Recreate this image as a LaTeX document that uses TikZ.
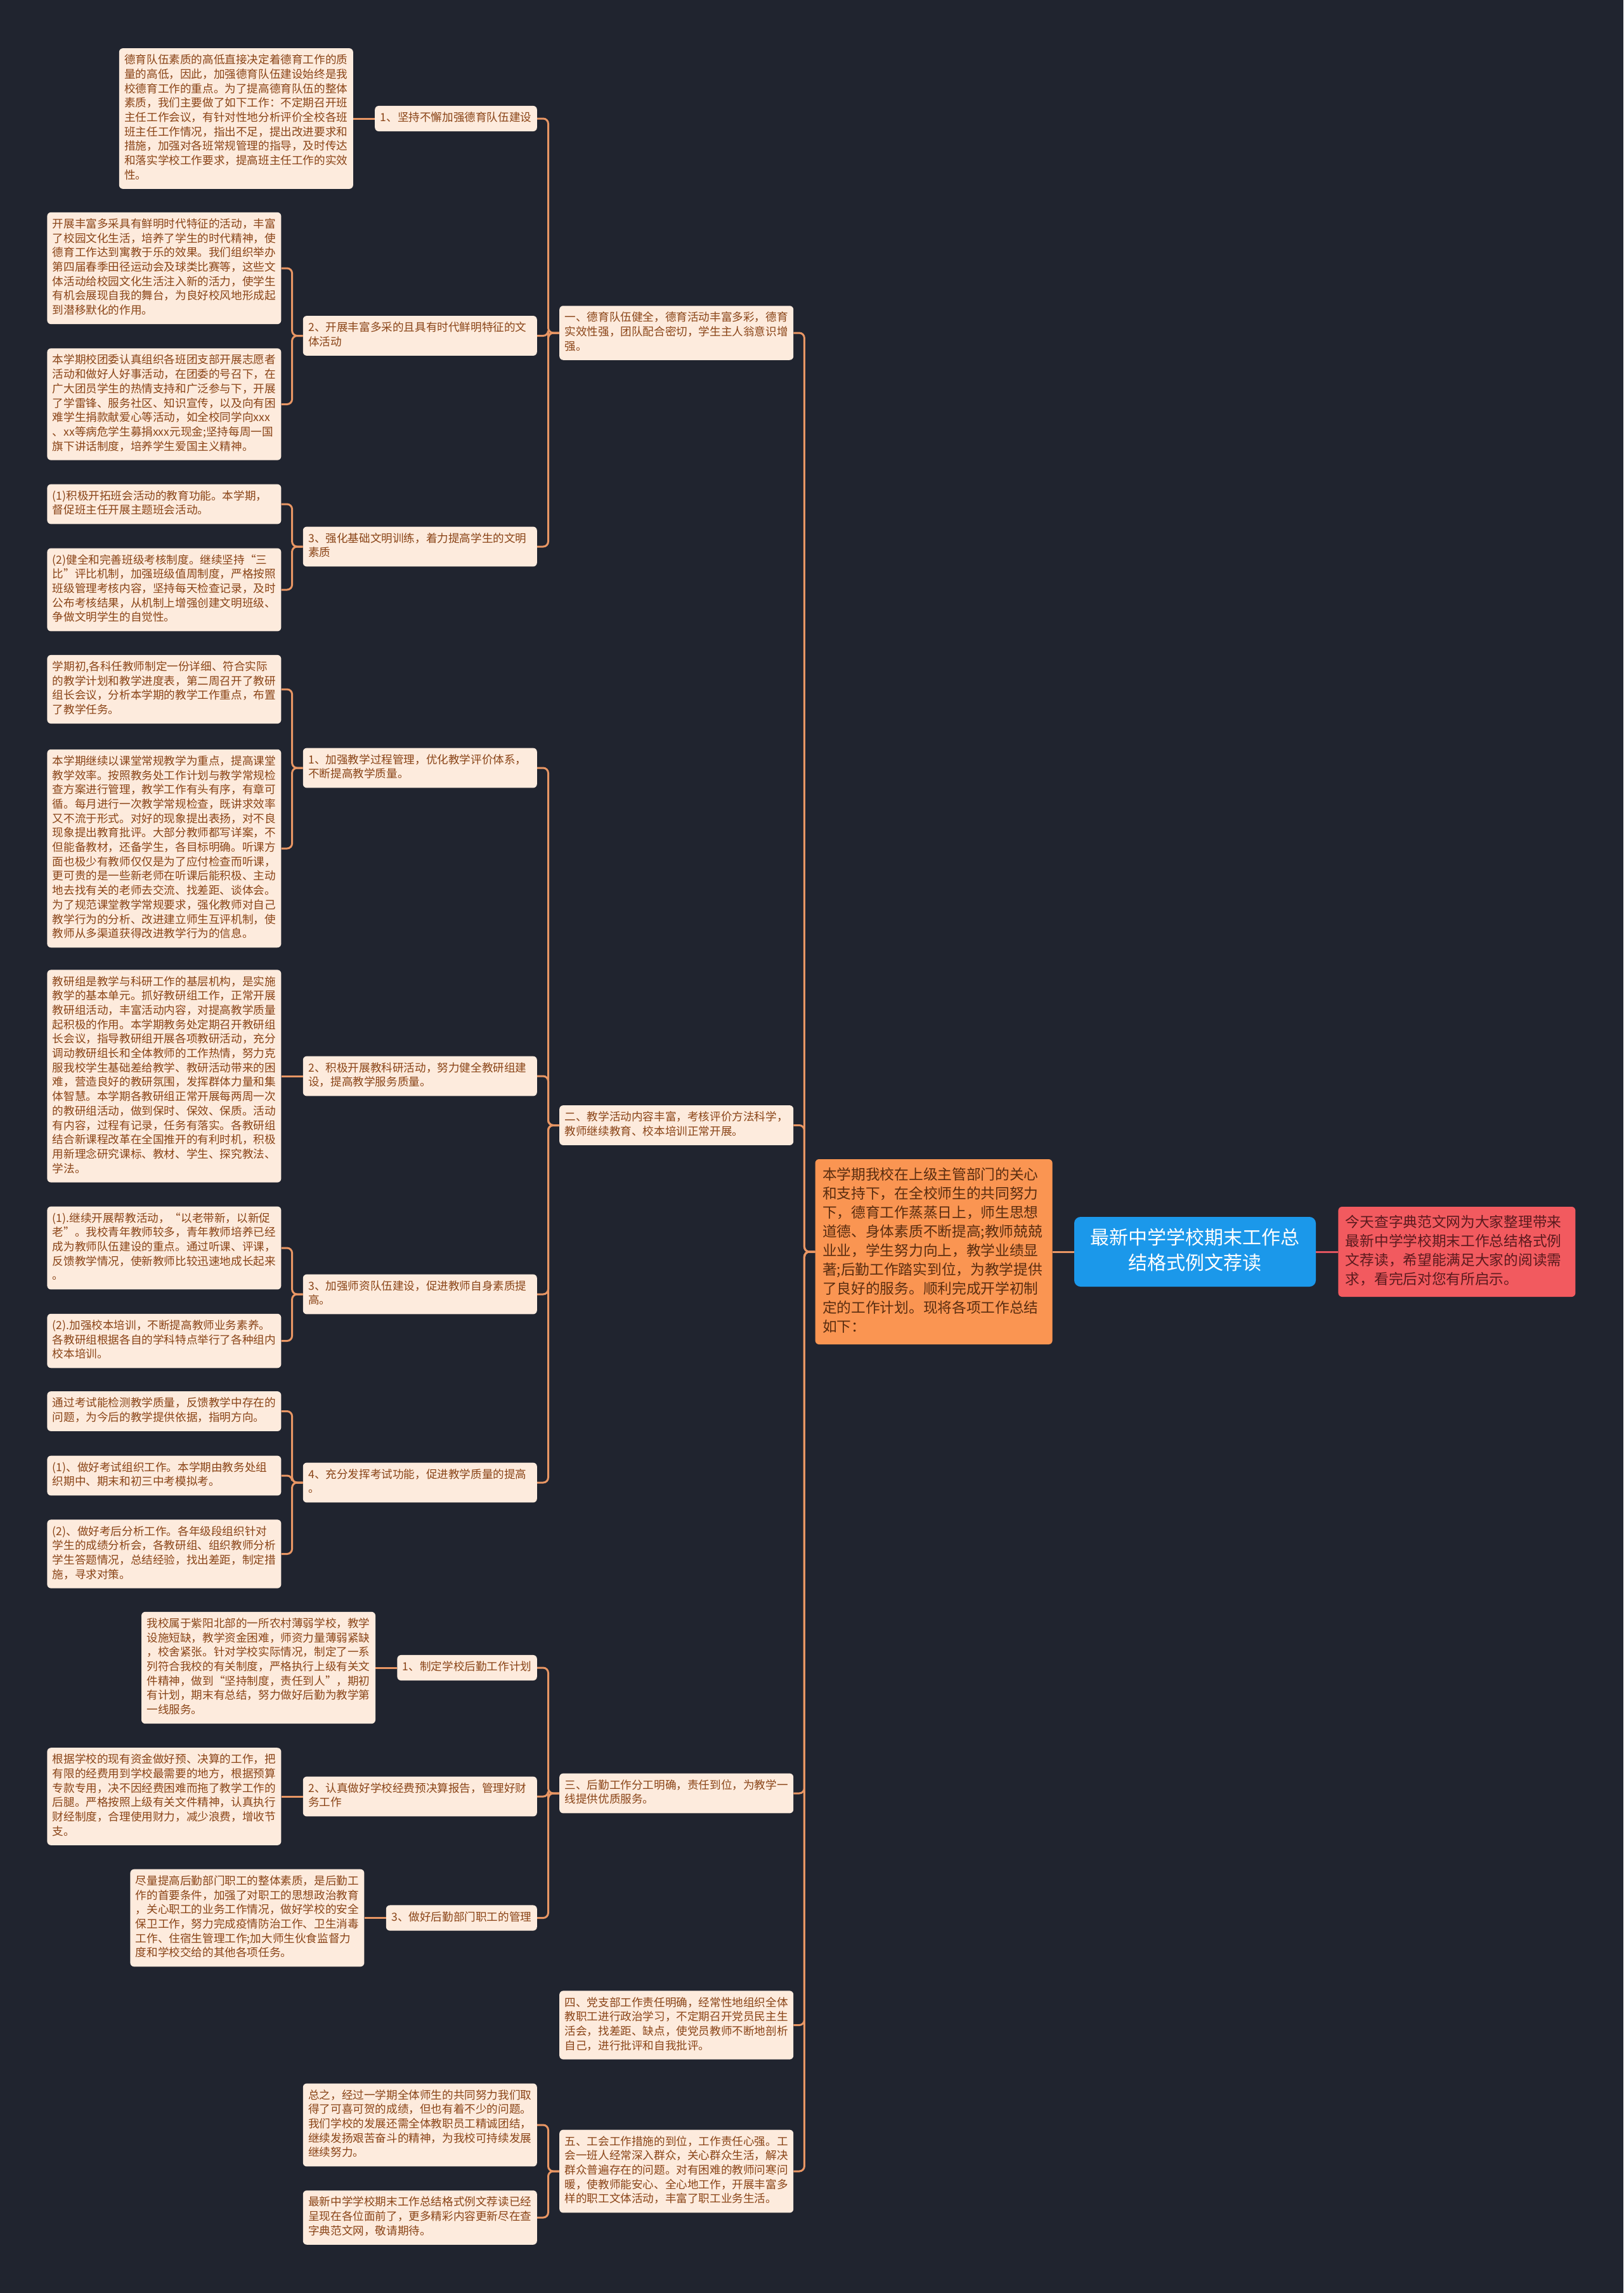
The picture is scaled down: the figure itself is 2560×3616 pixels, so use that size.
\documentclass[tikz,border=0pt]{standalone}
\usepackage{fontspec}
\setmainfont{Noto Sans CJK SC}
\usepackage{tikz}
\usetikzlibrary{positioning}
\definecolor{bgc}{HTML}{20242F}
\definecolor{leafc}{HTML}{FDEBDD}
\definecolor{leaftxt}{HTML}{8A4417}
\definecolor{linkc}{HTML}{E89664}
\definecolor{rootc}{HTML}{1B98EA}
\definecolor{orgc}{HTML}{FA9552}
\definecolor{orgtxt}{HTML}{5A2D10}
\definecolor{redc}{HTML}{F25A5F}
\definecolor{redtxt}{HTML}{5C1A1E}
\definecolor{redln}{HTML}{E05560}

\begin{document}
\begin{tikzpicture}[x=1pt,y=-1pt,
  box/.style={fill=leafc,text=leaftxt,rounded corners=6pt,inner xsep=8.5pt,inner ysep=8.7pt,
              font=\fontsize{17.6pt}{22.7pt}\selectfont,
              execute at begin node=\strut,execute at end node=\strut},
  leaf/.style={box,align=left,text width=352pt},
  tag/.style={box},
  topic/.style={fill=rootc,text=white,rounded corners=10pt,align=center,text width=330pt,
                inner xsep=25.5pt,inner ysep=15pt,font=\fontsize{30pt}{40pt}\selectfont,
                execute at begin node=\strut,execute at end node=\strut},
  side/.style={fill=#1,rounded corners=6pt,align=left,text width=351pt,inner xsep=11.5pt,
               inner ysep=11pt,font=\fontsize{22.7pt}{30pt}\selectfont,
               execute at begin node=\strut,execute at end node=\strut},
  link/.style={draw=linkc,line width=3pt,rounded corners=8pt}]
  \fill[bgc] (0,0) rectangle (2560,3616);

  \node[topic] (root) at (1884.5,1974) {最新中学学校期末工作总\\结格式例文荐读};
  \node[side=orgc,text=orgtxt,left=34pt of root] (intro) {本学期我校在上级主管部门的关心\\和支持下，在全校师生的共同努力\\下，德育工作蒸蒸日上，师生思想\\道德、身体素质不断提高;教师兢兢\\业业，学生努力向上，教学业绩显\\著;后勤工作踏实到位，为教学提供\\了良好的服务。顺利完成开学初制\\定的工作计划。现将各项工作总结\\如下：};
  \node[side=redc,text=redtxt,right=35pt of root] (desc) {今天查字典范文网为大家整理带来\\最新中学学校期末工作总结格式例\\文荐读，希望能满足大家的阅读需\\求，看完后对您有所启示。};

  \node[leaf,anchor=east,xshift=-34pt] (one) at (intro.west |- 0,525) {一、德育队伍健全，德育活动丰富多彩，德育\\实效性强，团队配合密切，学生主人翁意识增\\强。};
  \node[leaf,anchor=east,xshift=-34pt] (two) at (intro.west |- 0,1774.5) {二、教学活动内容丰富，考核评价方法科学，\\教师继续教育、校本培训正常开展。};
  \node[leaf,anchor=east,xshift=-34pt] (three) at (intro.west |- 0,2828) {三、后勤工作分工明确，责任到位，为教学一\\线提供优质服务。};
  \node[leaf,anchor=east,xshift=-34pt] (four) at (intro.west |- 0,3193.5) {四、党支部工作责任明确，经常性地组织全体\\教职工进行政治学习，不定期召开党员民主生\\活会，找差距、缺点，使党员教师不断地剖析\\自己，进行批评和自我批评。};
  \node[leaf,anchor=east,xshift=-34pt] (five) at (intro.west |- 0,3424) {五、工会工作措施的到位，工作责任心强。工\\会一班人经常深入群众，关心群众生活，解决\\群众普遍存在的问题。对有困难的教师问寒问\\暖，使教师能安心、全心地工作，开展丰富多\\样的职工文体活动，丰富了职工业务生活。};

  \node[tag,anchor=east,xshift=-35pt] (dy1) at (one.west |- 0,187) {1、坚持不懈加强德育队伍建设};
  \node[leaf,anchor=east,xshift=-35pt] (dy2) at (one.west |- 0,529.5) {2、开展丰富多采的且具有时代鲜明特征的文\\体活动};
  \node[leaf,anchor=east,xshift=-35pt] (dy3) at (one.west |- 0,862) {3、强化基础文明训练，着力提高学生的文明\\素质};
  \node[leaf,anchor=east,xshift=-35pt] (jx1) at (two.west |- 0,1211) {1、加强教学过程管理，优化教学评价体系，\\不断提高教学质量。};
  \node[leaf,anchor=east,xshift=-35pt] (jx2) at (two.west |- 0,1697) {2、积极开展教科研活动，努力健全教研组建\\设，提高教学服务质量。};
  \node[leaf,anchor=east,xshift=-35pt] (jx3) at (two.west |- 0,2041) {3、加强师资队伍建设，促进教师自身素质提\\高。};
  \node[leaf,anchor=east,xshift=-35pt] (jx4) at (two.west |- 0,2338) {4、充分发挥考试功能，促进教学质量的提高\\。};
  \node[tag,anchor=east,xshift=-35pt] (hq1) at (three.west |- 0,2630) {1、制定学校后勤工作计划};
  \node[leaf,anchor=east,xshift=-35pt] (hq2) at (three.west |- 0,2833) {2、认真做好学校经费预决算报告，管理好财\\务工作};
  \node[tag,anchor=east,xshift=-35pt] (hq3) at (three.west |- 0,3024.5) {3、做好后勤部门职工的管理};
  \node[leaf,anchor=east,xshift=-35pt] (gh1) at (five.west |- 0,3351) {总之，经过一学期全体师生的共同努力我们取\\得了可喜可贺的成绩，但也有着不少的问题。\\我们学校的发展还需全体教职员工精诚团结，\\继续发扬艰苦奋斗的精神，为我校可持续发展\\继续努力。};
  \node[leaf,anchor=east,xshift=-35pt] (gh2) at (five.west |- 0,3497) {最新中学学校期末工作总结格式例文荐读已经\\呈现在各位面前了，更多精彩内容更新尽在查\\字典范文网，敬请期待。};

  \node[leaf,left=34pt of dy1] (a1) {德育队伍素质的高低直接决定着德育工作的质\\量的高低，因此，加强德育队伍建设始终是我\\校德育工作的重点。为了提高德育队伍的整体\\素质，我们主要做了如下工作：不定期召开班\\主任工作会议，有针对性地分析评价全校各班\\班主任工作情况，指出不足，提出改进要求和\\措施，加强对各班常规管理的指导，及时传达\\和落实学校工作要求，提高班主任工作的实效\\性。};
  \node[leaf,anchor=east,xshift=-34pt] (b1) at (dy2.west |- 0,423) {开展丰富多采具有鲜明时代特征的活动，丰富\\了校园文化生活，培养了学生的时代精神，使\\德育工作达到寓教于乐的效果。我们组织举办\\第四届春季田径运动会及球类比赛等，这些文\\体活动给校园文化生活注入新的活力，使学生\\有机会展现自我的舞台，为良好校风地形成起\\到潜移默化的作用。};
  \node[leaf,anchor=east,xshift=-34pt] (b2) at (dy2.west |- 0,637.5) {本学期校团委认真组织各班团支部开展志愿者\\活动和做好人好事活动，在团委的号召下，在\\广大团员学生的热情支持和广泛参与下，开展\\了学雷锋、服务社区、知识宣传，以及向有困\\难学生捐款献爱心等活动，如全校同学向xxx\\、xx等病危学生募捐xxx元现金;坚持每周一国\\旗下讲话制度，培养学生爱国主义精神。};
  \node[leaf,anchor=east,xshift=-34pt] (c1) at (dy3.west |- 0,795) {(1)积极开拓班会活动的教育功能。本学期，\\督促班主任开展主题班会活动。};
  \node[leaf,anchor=east,xshift=-34pt] (c2) at (dy3.west |- 0,930) {(2)健全和完善班级考核制度。继续坚持“三\\比”评比机制，加强班级值周制度，严格按照\\班级管理考核内容，坚持每天检查记录，及时\\公布考核结果，从机制上增强创建文明班级、\\争做文明学生的自觉性。};
  \node[leaf,anchor=east,xshift=-34pt] (d1) at (jx1.west |- 0,1087) {学期初,各科任教师制定一份详细、符合实际\\的教学计划和教学进度表，第二周召开了教研\\组长会议，分析本学期的教学工作重点，布置\\了教学任务。};
  \node[leaf,anchor=east,xshift=-34pt] (d2) at (jx1.west |- 0,1338) {本学期继续以课堂常规教学为重点，提高课堂\\教学效率。按照教务处工作计划与教学常规检\\查方案进行管理，教学工作有头有序，有章可\\循。每月进行一次教学常规检查，既讲求效率\\又不流于形式。对好的现象提出表扬，对不良\\现象提出教育批评。大部分教师都写详案，不\\但能备教材，还备学生，各目标明确。听课方\\面也极少有教师仅仅是为了应付检查而听课，\\更可贵的是一些新老师在听课后能积极、主动\\地去找有关的老师去交流、找差距、谈体会。\\为了规范课堂教学常规要求，强化教师对自己\\教学行为的分析、改进建立师生互评机制，使\\教师从多渠道获得改进教学行为的信息。};
  \node[leaf,left=34pt of jx2] (e1) {教研组是教学与科研工作的基层机构，是实施\\教学的基本单元。抓好教研组工作，正常开展\\教研组活动，丰富活动内容，对提高教学质量\\起积极的作用。本学期教务处定期召开教研组\\长会议，指导教研组开展各项教研活动，充分\\调动教研组长和全体教师的工作热情，努力克\\服我校学生基础差给教学、教研活动带来的困\\难，营造良好的教研氛围，发挥群体力量和集\\体智慧。本学期各教研组正常开展每两周一次\\的教研组活动，做到保时、保效、保质。活动\\有内容，过程有记录，任务有落实。各教研组\\结合新课程改革在全国推开的有利时机，积极\\用新理念研究课标、教材、学生、探究教法、\\学法。};
  \node[leaf,anchor=east,xshift=-34pt] (f1) at (jx3.west |- 0,1968) {(1).继续开展帮教活动，“以老带新，以新促\\老”。我校青年教师较多，青年教师培养已经\\成为教师队伍建设的重点。通过听课、评课，\\反馈教学情况，使新教师比较迅速地成长起来\\。};
  \node[leaf,anchor=east,xshift=-34pt] (f2) at (jx3.west |- 0,2114.5) {(2).加强校本培训，不断提高教师业务素养。\\各教研组根据各自的学科特点举行了各种组内\\校本培训。};
  \node[leaf,anchor=east,xshift=-34pt] (g1) at (jx4.west |- 0,2225.5) {通过考试能检测教学质量，反馈教学中存在的\\问题，为今后的教学提供依据，指明方向。};
  \node[leaf,anchor=east,xshift=-34pt] (g2) at (jx4.west |- 0,2327) {(1)、做好考试组织工作。本学期由教务处组\\织期中、期末和初三中考模拟考。};
  \node[leaf,anchor=east,xshift=-34pt] (g3) at (jx4.west |- 0,2450.5) {(2)、做好考后分析工作。各年级段组织针对\\学生的成绩分析会，各教研组、组织教师分析\\学生答题情况，总结经验，找出差距，制定措\\施，寻求对策。};
  \node[leaf,left=34pt of hq1] (h1) {我校属于紫阳北部的一所农村薄弱学校，教学\\设施短缺，教学资金困难，师资力量薄弱紧缺\\，校舍紧张。针对学校实际情况，制定了一系\\列符合我校的有关制度，严格执行上级有关文\\件精神，做到“坚持制度，责任到人”，期初\\有计划，期末有总结，努力做好后勤为教学第\\一线服务。};
  \node[leaf,left=34pt of hq2] (i1) {根据学校的现有资金做好预、决算的工作，把\\有限的经费用到学校最需要的地方，根据预算\\专款专用，决不因经费困难而拖了教学工作的\\后腿。严格按照上级有关文件精神，认真执行\\财经制度，合理使用财力，减少浪费，增收节\\支。};
  \node[leaf,left=34pt of hq3] (j1) {尽量提高后勤部门职工的整体素质，是后勤工\\作的首要条件，加强了对职工的思想政治教育\\，关心职工的业务工作情况，做好学校的安全\\保卫工作，努力完成疫情防治工作、卫生消毒\\工作、住宿生管理工作;加大师生伙食监督力\\度和学校交给的其他各项任务。};

  \draw[link] (root) -- (intro);
  \draw[link,draw=redln] (root) -- (desc);
  \foreach \n in {one,two,three,four,five} \draw[link] (intro.west) -- ++(-17pt,0) |- (\n.east);
  \foreach \p/\n in {one/dy1,one/dy2,one/dy3,two/jx1,two/jx2,two/jx3,two/jx4,three/hq1,three/hq2,three/hq3,five/gh1,five/gh2}
    \draw[link] (\p.west) -- ++(-17.5pt,0) |- (\n.east);
  \foreach \p/\n in {dy2/b1,dy2/b2,dy3/c1,dy3/c2,jx1/d1,jx1/d2,jx3/f1,jx3/f2,jx4/g1,jx4/g2,jx4/g3}
    \draw[link] (\p.west) -- ++(-17pt,0) |- (\n.east);
  \foreach \p/\n in {dy1/a1,jx2/e1,hq1/h1,hq2/i1,hq3/j1} \draw[link] (\p) -- (\n);
\end{tikzpicture}
\end{document}
